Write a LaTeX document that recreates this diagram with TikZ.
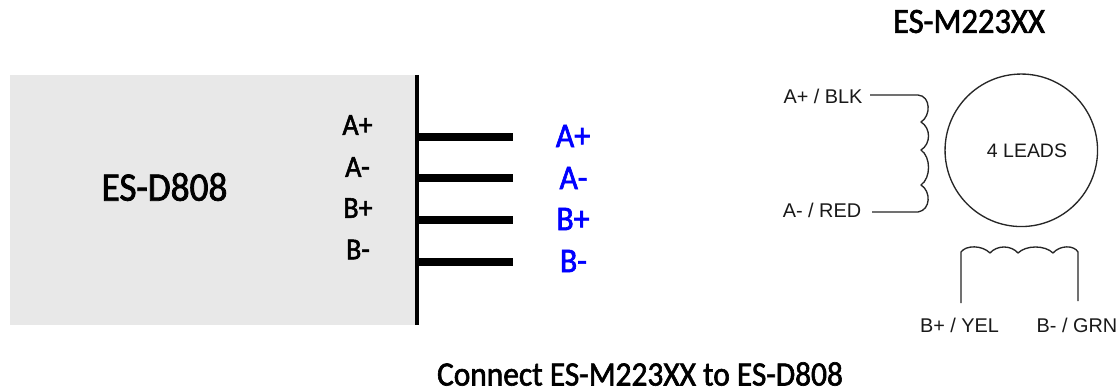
\documentclass[tikz,border=0pt]{standalone}
\usepackage{fontspec}
\setmainfont{Carlito}[FakeBold=1.8,FakeStretch=0.92]
\newfontfamily\arialfont{Liberation Sans}
\begin{document}
\begin{tikzpicture}[x=0.75pt,y=-0.75pt,
  calib/.style={font=\fontsize{#1}{#1}\selectfont,inner sep=0,text=black},
  bluelbl/.style={font=\fontsize{26}{26}\selectfont,inner sep=0,text=blue},
  arial/.style={font=\arialfont\fontsize{14.9}{14.9}\selectfont,inner sep=0,text=black!90},
  wire/.style={line width=6pt,black},
  thin line/.style={line width=1pt,black!85,line join=round}]
\useasboundingbox (0,0) rectangle (1117,392);
\fill[white] (0,0) rectangle (1117,392);
\node[calib=26.6] (title) at (969,21.5) {ES-M223XX};
\node[calib=25.6] (caption) at (640,374) {Connect ES-M223XX to ES-D808};
% driver
\fill[black!9] (10,75) rectangle (416,325);
\coordinate (bt) at (417,75);
\coordinate (bb) at (417,325);
\draw[line width=2.8pt,black] (bt) -- (bb);
\node[calib=30.4] (drv) at (164.5,187) {ES-D808};
\node[calib=22.8] (ip) at (357.5,125) {A+};
\node[calib=22.8] (im) at (357.5,167) {A-};
\node[calib=22.8] (jp) at (358,208) {B+};
\node[calib=22.8] (jm) at (358,249.5) {B-};
\foreach \n/\y in {a/136.7,b/178.3,c/220.3,d/262}{
  \coordinate (\n0) at (417,\y);
  \coordinate (\n1) at (513,\y);
  \draw[wire] (\n0) -- (\n1);
}
\node[bluelbl] (op) at (573,136) {A+};
\node[bluelbl] (om) at (573.5,178) {A-};
\node[bluelbl] (qp) at (573,219) {B+};
\node[bluelbl] (qm) at (573.5,261) {B-};
% motor
\node[draw,circle,line width=1pt,black!85,minimum size=152.5pt*0.75,inner sep=0] (motor) at (1021.3,150.3) {};
\node[arial,font=\arialfont\fontsize{14.6}{14.6}\selectfont] (leads) at (1027,151) {4 LEADS};
\node[arial] (lab) at (823,96.5) {A+ / BLK};
\node[arial] (lam) at (822,210) {A- / RED};
\node[arial] (lbp) at (959.5,325) {B+ / YEL};
\node[arial] (lbm) at (1077,325) {B- / GRN};
\coordinate (a1) at (870,95);
\coordinate (a2) at (872,212);
\coordinate (b1) at (961,303);
\coordinate (b2) at (1078,301);
\draw[thin line] (a1) -- (918,95)
  .. controls (931,96) and (931,116) .. (921,122)
  .. controls (931,128) and (931,144) .. (921,150)
  .. controls (931,157) and (931,178) .. (921,185)
  .. controls (931,191) and (931,210) .. (918,212) -- (a2);
\draw[thin line] (b1) -- (961,252)
  .. controls (966,245) and (982,245) .. (990,253)
  .. controls (997,245) and (1011,245) .. (1018,253)
  .. controls (1026,245) and (1045,245) .. (1053,253)
  .. controls (1060,245) and (1074,245) .. (1078,252) -- (b2);
\end{tikzpicture}
\end{document}
